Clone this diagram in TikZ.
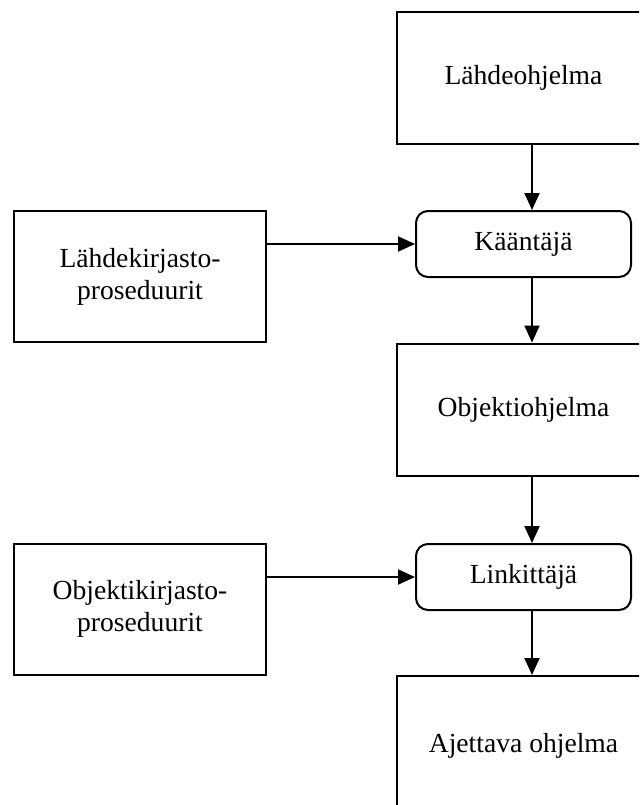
\documentclass[tikz,border=0pt]{standalone}
\usepackage{fontspec}
\setmainfont{Liberation Serif}
\usepackage{tikz}
\usetikzlibrary{positioning,calc,arrows.meta}

\begin{document}
\begin{tikzpicture}[x=0.5pt, y=-0.5pt,
  every node/.style={font=\fontsize{13.8}{16}\selectfont},
  prog/.style={draw, line width=1pt, minimum width=126.5pt, minimum height=66pt,
               align=center, inner sep=0pt},
  tool/.style={draw, line width=1pt, rounded corners=6pt, minimum width=107.5pt,
               minimum height=33pt, align=center, inner sep=0pt},
  lib/.style={draw, line width=1pt, minimum width=126pt, minimum height=65.5pt,
              align=center, inner sep=0pt},
  arrow/.style={-{Triangle[length=8.5pt,width=7.5pt]}, line width=1pt}]
\clip (0,0) rectangle (639,805);
\node[prog] (src)    at (523.5,78)  {Lähdeohjelma};
\node[tool] (comp)   at (523.5,244) {Kääntäjä};
\node[lib]  (srclib) at (140,276.5) {Lähdekirjasto-\\proseduurit};
\node[prog] (obj)    at (523.5,409.5) {Objektiohjelma};
\node[tool] (link)   at (523.5,577) {Linkittäjä};
\node[lib]  (objlib) at (140,609)   {Objektikirjasto-\\proseduurit};
\node[prog, minimum height=70pt] (exe) at (523.5,746) {Ajettava ohjelma};
\foreach \a/\b in {src/comp, comp/obj, obj/link, link/exe}
  {\draw[arrow] ([xshift=4.25pt]\a.south) -- ([xshift=4.25pt]\b.north);}
\draw[arrow] (srclib.east |- comp.west) -- (comp.west);
\draw[arrow] (objlib.east |- link.west) -- (link.west);
\end{tikzpicture}
\end{document}
